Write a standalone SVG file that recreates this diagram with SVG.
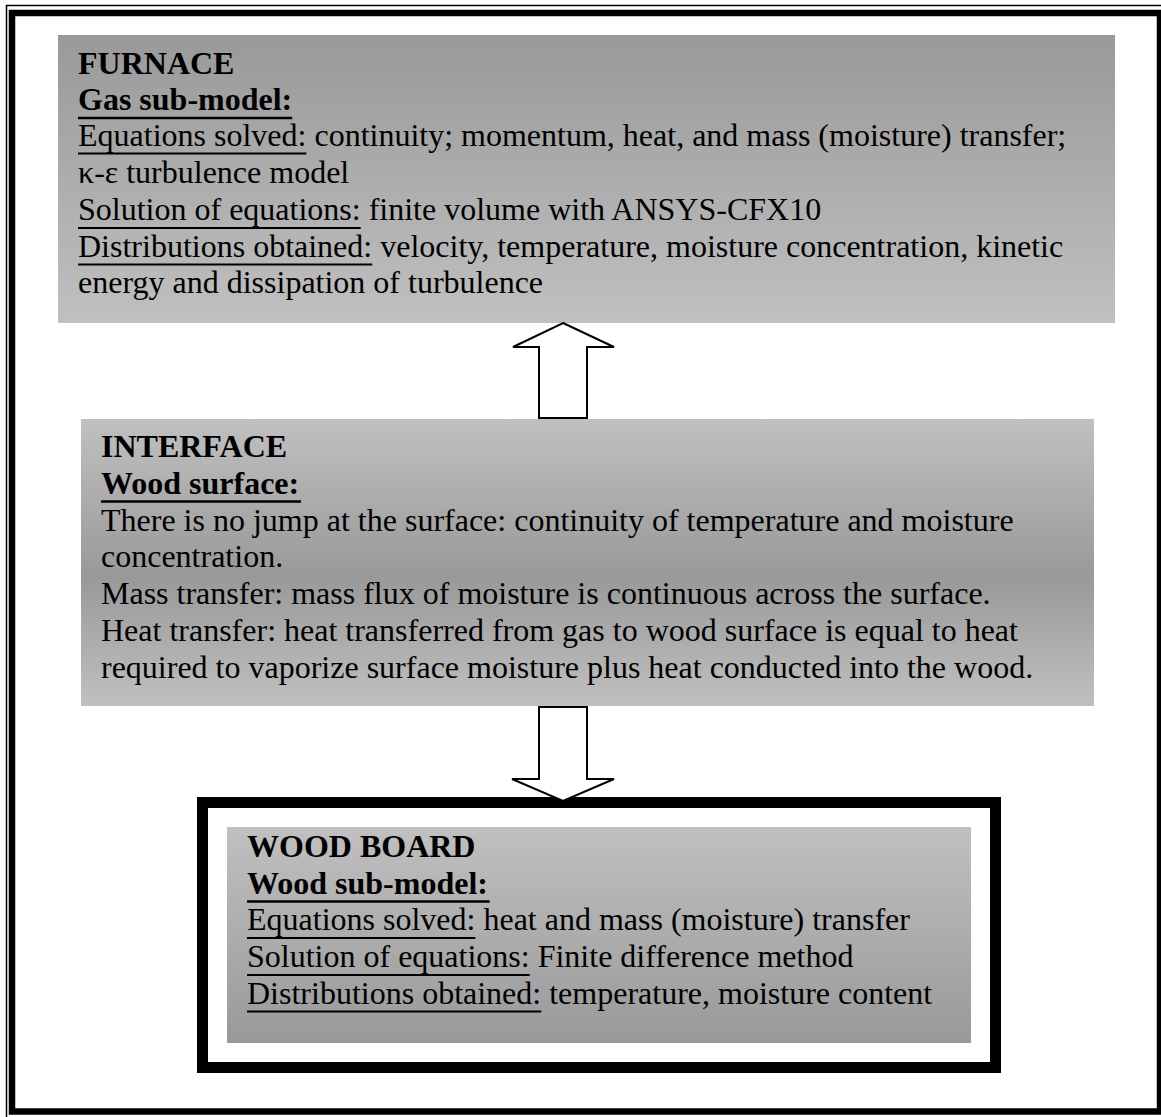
<svg xmlns="http://www.w3.org/2000/svg" width="1161" height="1117" viewBox="0 0 1161 1117">
<style>
text { font-family: "Liberation Serif", "Times New Roman", serif; font-size: 32px; fill: #000; }
.b { font-weight: bold; }
.ul { stroke: #000; stroke-width: 2; }
.ulb { stroke: #000; stroke-width: 2.7; }
.arrow { fill: #fff; stroke: #000; stroke-width: 2; stroke-linejoin: miter; }
</style>
<defs>
<linearGradient id="gFurnace" x1="0" y1="0" x2="0" y2="1">
<stop offset="0" stop-color="#999999"/>
<stop offset="1" stop-color="#c0c0c0"/>
</linearGradient>
<linearGradient id="gInterface" x1="0" y1="0" x2="0" y2="1">
<stop offset="0" stop-color="#c0c0c0"/>
<stop offset="0.55" stop-color="#999999"/>
<stop offset="1" stop-color="#c0c0c0"/>
</linearGradient>
<linearGradient id="gWood" x1="0" y1="0" x2="0" y2="1">
<stop offset="0" stop-color="#c0c0c0"/>
<stop offset="1" stop-color="#999999"/>
</linearGradient>
</defs>
<rect x="0" y="0" width="1161" height="1117" fill="#fff"/>
<g id="frame">
<rect x="6.5" y="5.5" width="1160" height="1120" fill="none" stroke="#000" stroke-width="1.5"/>
<rect x="12" y="13" width="1148" height="1098.5" fill="none" stroke="#000" stroke-width="6.5"/>
</g>
<g id="furnace">
<rect x="58" y="35" width="1057" height="288" fill="url(#gFurnace)"/>
<text x="78" y="74" class="b">FURNACE</text>
<text x="78" y="110" class="b">Gas sub-model:</text>
<line class="ulb" x1="78" y1="118" x2="292.2" y2="118"/>
<text x="78" y="146">Equations solved: continuity; momentum, heat, and mass (moisture) transfer;</text>
<line class="ul" x1="78" y1="153.5" x2="306.4" y2="153.5"/>
<text x="78" y="183">κ-ε turbulence model</text>
<text x="78" y="220">Solution of equations: finite volume with ANSYS-CFX10</text>
<line class="ul" x1="78" y1="228" x2="360.7" y2="228"/>
<text x="78" y="256.5">Distributions obtained: velocity, temperature, moisture concentration, kinetic</text>
<line class="ul" x1="78" y1="264.5" x2="372.2" y2="264.5"/>
<text x="78" y="293">energy and dissipation of turbulence</text>
</g>
<g id="interface">
<rect x="81" y="419" width="1013" height="287" fill="url(#gInterface)"/>
<text x="101" y="457" class="b">INTERFACE</text>
<text x="101" y="494" class="b">Wood surface:</text>
<line class="ulb" x1="101" y1="501.5" x2="301" y2="501.5"/>
<text x="101" y="530.5">There is no jump at the surface: continuity of temperature and moisture</text>
<text x="101" y="567">concentration.</text>
<text x="101" y="604">Mass transfer: mass flux of moisture is continuous across the surface.</text>
<text x="101" y="641">Heat transfer: heat transferred from gas to wood surface is equal to heat</text>
<text x="101" y="678">required to vaporize surface moisture plus heat conducted into the wood.</text>
</g>
<g id="woodboard">
<rect x="202.5" y="802.5" width="793" height="265" fill="#fff" stroke="#000" stroke-width="11"/>
<rect x="227" y="827" width="744" height="216" fill="url(#gWood)"/>
<text x="247" y="857" class="b">WOOD BOARD</text>
<text x="247" y="893.5" class="b">Wood sub-model:</text>
<line class="ulb" x1="247" y1="901.5" x2="489.7" y2="901.5"/>
<text x="247" y="930">Equations solved: heat and mass (moisture) transfer</text>
<line class="ul" x1="247" y1="938" x2="475.4" y2="938"/>
<text x="247" y="967">Solution of equations: Finite difference method</text>
<line class="ul" x1="247" y1="975" x2="529.7" y2="975"/>
<text x="247" y="1003.5">Distributions obtained: temperature, moisture content</text>
<line class="ul" x1="247" y1="1011.5" x2="541.2" y2="1011.5"/>
</g>
<g id="connectors">
<polygon class="arrow" points="563,323 614,347 587,347 587,418 539,418 539,347 513,347"/>
<polygon class="arrow" points="539,707 587,707 587,779 614,779 563,801 512,779 539,779"/>
</g>
</svg>
